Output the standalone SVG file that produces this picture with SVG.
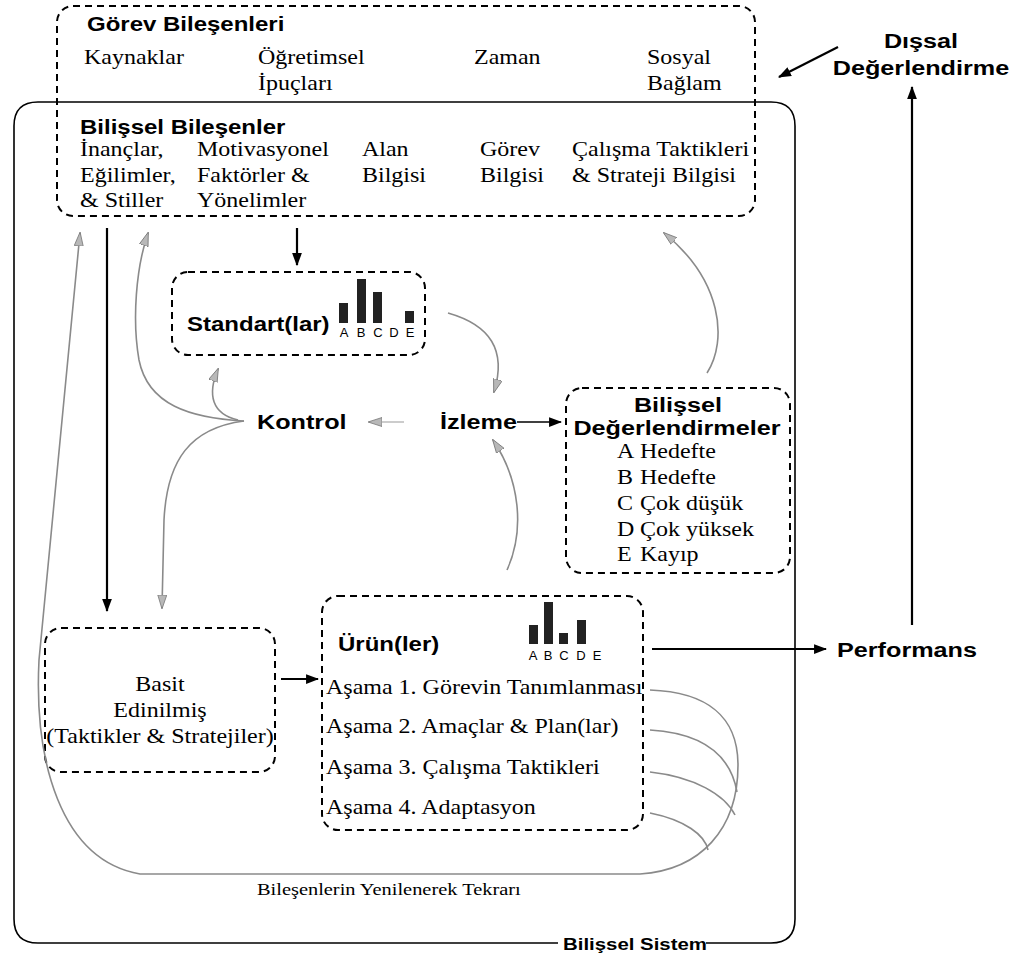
<svg xmlns="http://www.w3.org/2000/svg" width="1018" height="960" viewBox="0 0 1018 960">
<style>
.t{font-family:"Liberation Serif","Times New Roman",serif;font-size:20px;fill:#000}
.b{font-family:"Liberation Sans",Arial,sans-serif;font-weight:bold;font-size:21px;fill:#000}
.l{font-family:"Liberation Sans",Arial,sans-serif;font-size:13px;fill:#000;text-anchor:middle}
.s{transform-box:fill-box;transform-origin:0 50%;transform:scaleX(1.2)}
.m{text-anchor:middle;transform-box:fill-box;transform-origin:50% 50%;transform:scaleX(1.2)}
.dash{fill:none;stroke:#000;stroke-width:2;stroke-dasharray:7 5}
.gray{fill:none;stroke:#8a8a8a;stroke-width:1.6}
.blk{fill:none;stroke:#000;stroke-width:2.2}
.bar{fill:#222}
</style>
<defs>
<marker id="ab" viewBox="0 0 12 10" refX="11" refY="5" markerWidth="13" markerHeight="11" markerUnits="userSpaceOnUse" orient="auto"><path d="M0,0.5 L12,5 L0,9.5 z" fill="#000"/></marker>
<marker id="ag" viewBox="0 0 14 10" refX="13" refY="5" markerWidth="14" markerHeight="10" markerUnits="userSpaceOnUse" orient="auto"><path d="M0,0.5 L14,5 L0,9.5 z" fill="#b8b8b8" stroke="#777" stroke-width="0.8"/></marker>
</defs>
<rect width="1018" height="960" fill="#fff"/>

<g id="bilissel-sistem">
<path d="M558 943 L38 943 Q14 943 14 919 L14 126 Q14 102 38 102 L771 102 Q795 102 795 126 L795 919 Q795 943 771 943 L706 943" fill="none" stroke="#000" stroke-width="1.6"/>
<text class="b s" x="563" y="950" style="font-size:17px">Bilişsel Sistem</text>
</g>

<g id="gorev-bilesenleri">
<rect class="dash" x="57" y="6" width="698" height="210" rx="16"/>
<text class="b s" x="87" y="31" style="font-size:20px">Görev Bileşenleri</text>
<text class="t s" x="84" y="64">Kaynaklar</text>
<text class="t s" x="258" y="64">Öğretimsel</text>
<text class="t s" x="258" y="90">İpuçları</text>
<text class="t s" x="474" y="64">Zaman</text>
<text class="t s" x="647" y="64">Sosyal</text>
<text class="t s" x="647" y="90">Bağlam</text>
</g>

<g id="bilissel-bilesenler">
<text class="b s" x="80" y="134" style="font-size:20px">Bilişsel Bileşenler</text>
<text class="t s" x="80" y="156">İnançlar,</text>
<text class="t s" x="80" y="182">Eğilimler,</text>
<text class="t s" x="80" y="207">&amp; Stiller</text>
<text class="t s" x="197" y="156">Motivasyonel</text>
<text class="t s" x="197" y="182">Faktörler &amp;</text>
<text class="t s" x="197" y="207">Yönelimler</text>
<text class="t s" x="362" y="156">Alan</text>
<text class="t s" x="362" y="182">Bilgisi</text>
<text class="t s" x="480" y="156">Görev</text>
<text class="t s" x="480" y="182">Bilgisi</text>
<text class="t s" x="572" y="156">Çalışma Taktikleri</text>
<text class="t s" x="572" y="182">&amp; Strateji Bilgisi</text>
</g>

<g id="dissal-degerlendirme">
<text class="b m" x="921" y="48">Dışsal</text>
<text class="b m" x="921" y="75">Değerlendirme</text>
</g>

<g id="standartlar">
<rect class="dash" x="172" y="272" width="253" height="83" rx="16"/>
<text class="b s" x="187" y="331" style="font-size:20px">Standart(lar)</text>
<rect class="bar" x="339" y="303" width="9" height="20"/>
<rect class="bar" x="357" y="279" width="9" height="44"/>
<rect class="bar" x="373" y="292" width="9" height="31"/>
<rect class="bar" x="405" y="311" width="9" height="12"/>
<text class="l" x="344" y="337">A</text>
<text class="l" x="361" y="337">B</text>
<text class="l" x="378" y="337">C</text>
<text class="l" x="394" y="337">D</text>
<text class="l" x="410" y="337">E</text>
</g>

<g id="kontrol"><text class="b s" x="257" y="429">Kontrol</text></g>
<g id="izleme"><text class="b s" x="440" y="429">İzleme</text></g>

<g id="bilissel-degerlendirmeler">
<rect class="dash" x="566" y="388" width="224" height="185" rx="16"/>
<text class="b m" x="678" y="412">Bilişsel</text>
<text class="b m" x="677" y="435">Değerlendirmeler</text>
<text class="t s" x="617" y="458">A</text><text class="t s" x="640" y="458">Hedefte</text>
<text class="t s" x="617" y="484">B</text><text class="t s" x="640" y="484">Hedefte</text>
<text class="t s" x="617" y="510">C</text><text class="t s" x="640" y="510">Çok düşük</text>
<text class="t s" x="617" y="536">D</text><text class="t s" x="640" y="536">Çok yüksek</text>
<text class="t s" x="617" y="561">E</text><text class="t s" x="640" y="561">Kayıp</text>
</g>

<g id="basit-edinilmis">
<rect class="dash" x="45" y="628" width="230" height="144" rx="16"/>
<text class="t m" x="160" y="691">Basit</text>
<text class="t m" x="160" y="717">Edinilmiş</text>
<text class="t m" x="160" y="743">(Taktikler &amp; Stratejiler)</text>
</g>

<g id="urunler">
<rect class="dash" x="322" y="596" width="321" height="234" rx="16"/>
<text class="b s" x="338" y="651" style="font-size:20px">Ürün(ler)</text>
<rect class="bar" x="529" y="625" width="9" height="19"/>
<rect class="bar" x="544" y="602" width="9" height="42"/>
<rect class="bar" x="559" y="633" width="9" height="11"/>
<rect class="bar" x="577" y="620" width="9" height="24"/>
<text class="l" x="533" y="660">A</text>
<text class="l" x="548" y="660">B</text>
<text class="l" x="564" y="660">C</text>
<text class="l" x="581" y="660">D</text>
<text class="l" x="597" y="660">E</text>
<text class="t s" x="326" y="694">Aşama 1. Görevin Tanımlanması</text>
<text class="t s" x="326" y="733">Aşama 2. Amaçlar &amp; Plan(lar)</text>
<text class="t s" x="326" y="774">Aşama 3. Çalışma Taktikleri</text>
<text class="t s" x="326" y="814">Aşama 4. Adaptasyon</text>
</g>

<g id="performans"><text class="b s" x="837" y="657">Performans</text></g>

<g id="tekrar-label"><text class="t s" x="257" y="895" style="font-size:17px">Bileşenlerin Yenilenerek Tekrarı</text></g>

<g id="connectors">
<line class="blk" x1="838" y1="47" x2="779" y2="77" marker-end="url(#ab)"/>
<line class="blk" x1="912" y1="625" x2="912" y2="87" marker-end="url(#ab)"/>
<line class="blk" x1="297" y1="228" x2="297" y2="265" marker-end="url(#ab)"/>
<line class="blk" x1="107" y1="228" x2="107" y2="611" marker-end="url(#ab)"/>
<line class="blk" x1="517" y1="422" x2="561" y2="422" marker-end="url(#ab)" style="stroke-width:1.6"/>
<line class="blk" x1="281" y1="679" x2="318" y2="679" marker-end="url(#ab)"/>
<line class="blk" x1="652" y1="649" x2="826" y2="649" marker-end="url(#ab)"/>
<line class="gray" x1="404" y1="422" x2="369" y2="422" marker-end="url(#ag)" style="stroke:#bbb"/>
<path class="gray" d="M707 373 C728 340 722 280 664 233" marker-end="url(#ag)"/>
<path class="gray" d="M448 313 C490 325 507 350 494 392" marker-end="url(#ag)"/>
<path class="gray" d="M507 570 C525 530 520 480 493 440" marker-end="url(#ag)"/>
<path class="gray" d="M244 421 C190 418 148 405 139 360 C132 320 136 268 148 233" marker-end="url(#ag)"/>
<path class="gray" d="M238 420 C212 414 207 395 218 369" marker-end="url(#ag)"/>
<path class="gray" d="M244 421 C190 428 167 460 164 520 L162 608" marker-end="url(#ag)"/>
<path class="gray" d="M650 690 C705 692 738 715 738 765 C738 830 700 870 640 874 L140 874 C60 860 34 760 39 660 L80 233" marker-end="url(#ag)"/>
<path class="gray" d="M650 730 C700 733 730 752 737 792"/>
<path class="gray" d="M650 772 C695 777 725 795 735 815"/>
<path class="gray" d="M650 813 C685 820 705 835 708 850"/>
</g>
</svg>
